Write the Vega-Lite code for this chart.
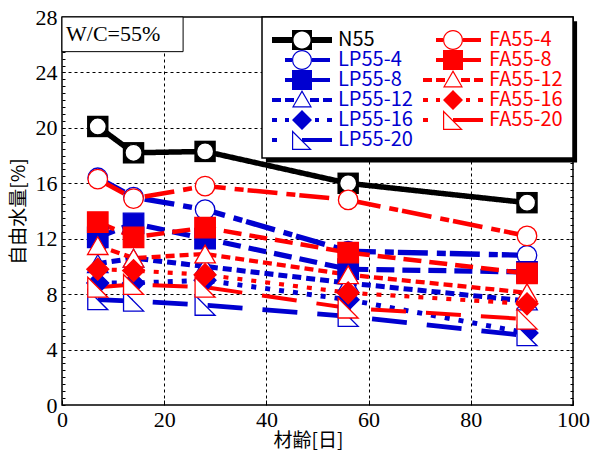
{
  "$schema": "https://vega.github.io/schema/vega-lite/v6.json",
  "width": 511,
  "height": 388,
  "autosize": {"type": "none"},
  "padding": {"left": 62, "top": 17, "right": 22, "bottom": 49},
  "background": "white",
  "config": {
    "view": {"stroke": "black", "strokeWidth": 1.5},
    "axis": {"labelColor": "black", "titleColor": "black", "tickColor": "black"},
    "legend": {"orient": "none", "padding": 0, "rowPadding": 0, "symbolSize": 400, "symbolStrokeWidth": 0, "symbolOpacity": 1,
      "labelOffset": 46, "labelFont": "Noto Sans CJK JP", "labelFontSize": 20, "labelLimit": 0, "labelBaseline": "middle", "title": null}
  },
  "data": {
    "values": [
      {"s": "N55", "a": 7, "v": 20.1}, {"s": "N55", "a": 14, "v": 18.2}, {"s": "N55", "a": 28, "v": 18.3}, {"s": "N55", "a": 56, "v": 16.0}, {"s": "N55", "a": 91, "v": 14.6},
      {"s": "LP55-4", "a": 7, "v": 16.4}, {"s": "LP55-4", "a": 14, "v": 15.0}, {"s": "LP55-4", "a": 28, "v": 14.1}, {"s": "LP55-4", "a": 56, "v": 11.1}, {"s": "LP55-4", "a": 91, "v": 10.8},
      {"s": "LP55-8", "a": 7, "v": 12.1}, {"s": "LP55-8", "a": 14, "v": 13.1}, {"s": "LP55-8", "a": 28, "v": 12.0}, {"s": "LP55-8", "a": 56, "v": 9.8}, {"s": "LP55-8", "a": 91, "v": 9.6},
      {"s": "LP55-12", "a": 7, "v": 10.2}, {"s": "LP55-12", "a": 14, "v": 10.6}, {"s": "LP55-12", "a": 28, "v": 10.0}, {"s": "LP55-12", "a": 56, "v": 8.8}, {"s": "LP55-12", "a": 91, "v": 7.5},
      {"s": "LP55-16", "a": 7, "v": 8.8}, {"s": "LP55-16", "a": 14, "v": 8.8}, {"s": "LP55-16", "a": 28, "v": 9.0}, {"s": "LP55-16", "a": 56, "v": 7.6}, {"s": "LP55-16", "a": 91, "v": 5.2},
      {"s": "LP55-20", "a": 7, "v": 7.6}, {"s": "LP55-20", "a": 14, "v": 7.5}, {"s": "LP55-20", "a": 28, "v": 7.2}, {"s": "LP55-20", "a": 56, "v": 6.4}, {"s": "LP55-20", "a": 91, "v": 5.0},
      {"s": "FA55-4", "a": 7, "v": 16.3}, {"s": "FA55-4", "a": 14, "v": 14.9}, {"s": "FA55-4", "a": 28, "v": 15.8}, {"s": "FA55-4", "a": 56, "v": 14.8}, {"s": "FA55-4", "a": 91, "v": 12.2},
      {"s": "FA55-8", "a": 7, "v": 13.2}, {"s": "FA55-8", "a": 14, "v": 12.1}, {"s": "FA55-8", "a": 28, "v": 12.8}, {"s": "FA55-8", "a": 56, "v": 11.0}, {"s": "FA55-8", "a": 91, "v": 9.5},
      {"s": "FA55-12", "a": 7, "v": 11.5}, {"s": "FA55-12", "a": 14, "v": 10.6}, {"s": "FA55-12", "a": 28, "v": 10.9}, {"s": "FA55-12", "a": 56, "v": 9.4}, {"s": "FA55-12", "a": 91, "v": 8.1},
      {"s": "FA55-16", "a": 7, "v": 9.8}, {"s": "FA55-16", "a": 14, "v": 9.7}, {"s": "FA55-16", "a": 28, "v": 9.4}, {"s": "FA55-16", "a": 56, "v": 8.1}, {"s": "FA55-16", "a": 91, "v": 7.3},
      {"s": "FA55-20", "a": 7, "v": 8.5}, {"s": "FA55-20", "a": 14, "v": 8.7}, {"s": "FA55-20", "a": 28, "v": 8.5}, {"s": "FA55-20", "a": 56, "v": 7.0}, {"s": "FA55-20", "a": 91, "v": 6.2}
    ]
  },
  "resolve": {"scale": {"shape": "independent"}, "axis": {"x": "independent", "y": "independent"}},
  "layer": [
    {
      "mark": {"type": "line", "strokeCap": "butt"},
      "encoding": {
        "x": {"field": "a", "type": "quantitative", "scale": {"domain": [0, 100], "nice": false},
          "axis": {"orient": "bottom", "tickCount": 5, "domain": false, "grid": true, "gridColor": "black", "gridDash": [3, 3], "gridWidth": 1,
            "gridOpacity": {"condition": {"test": "datum.value > 0 && datum.value < 100", "value": 1}, "value": 0},
            "tickSize": -5, "tickWidth": 1, "labelFont": "Liberation Serif", "labelFontSize": 22, "labelPadding": 9, "labelFlush": false,
            "title": "材齢[日]", "titleFont": "Noto Sans CJK JP", "titleFontSize": 19, "titleFontWeight": "normal", "titleX": 246, "titleY": 35, "titleBaseline": "middle"}},
        "y": {"field": "v", "type": "quantitative", "scale": {"domain": [0, 28], "nice": false},
          "axis": {"orient": "left", "tickCount": 56, "domain": false, "grid": true, "gridColor": "black", "gridDash": [3, 3], "gridWidth": 1,
            "gridOpacity": {"condition": {"test": "datum.value % 4 === 0 && datum.value > 0 && datum.value < 28", "value": 1}, "value": 0},
            "labelExpr": "datum.value % 4 === 0 ? format(datum.value, 'd') : ''",
            "tickSize": -3, "tickWidth": 1, "labelFont": "Liberation Serif", "labelFontSize": 22, "labelPadding": 8, "labelFlush": false,
            "title": "自由水量[%]", "titleFont": "Noto Sans CJK JP", "titleFontSize": 19, "titleFontWeight": "normal", "titleX": -44, "titleY": 194, "titleAlign": "center", "titleBaseline": "middle"}},
        "color": {"field": "s", "type": "nominal", "legend": null,
          "scale": {"domain": ["N55", "LP55-4", "LP55-8", "LP55-12", "LP55-16", "LP55-20", "FA55-4", "FA55-8", "FA55-12", "FA55-16", "FA55-20"],
            "range": ["black", "#0000d0", "#0000d0", "#0000d0", "#0000d0", "#0000d0", "#ff0000", "#ff0000", "#ff0000", "#ff0000", "#ff0000"]}},
        "strokeDash": {"field": "s", "type": "nominal", "legend": null,
          "scale": {"domain": ["N55", "LP55-4", "LP55-8", "LP55-12", "LP55-16", "LP55-20", "FA55-4", "FA55-8", "FA55-12", "FA55-16", "FA55-20"],
            "range": [[1, 0], [30, 9, 9, 4], [18, 8], [9, 5], [5, 9], [35, 20], [30, 9, 9, 4], [18, 8], [9, 5], [5, 9], [35, 20]]}},
        "strokeWidth": {"field": "s", "type": "nominal", "legend": null,
          "scale": {"domain": ["N55", "LP55-4", "LP55-8", "LP55-12", "LP55-16", "LP55-20", "FA55-4", "FA55-8", "FA55-12", "FA55-16", "FA55-20"],
            "range": [5.5, 4, 4, 4, 4, 4, 4, 4, 4, 4, 4]}}
      }
    },
    {
      "transform": [{"filter": "datum.s === 'N55'"}],
      "mark": {"type": "point", "shape": "square", "filled": true, "color": "black", "size": 460, "opacity": 1},
      "encoding": {
        "x": {"field": "a", "type": "quantitative", "axis": null},
        "y": {"field": "v", "type": "quantitative", "axis": null}
      }
    },
    {
      "mark": {"type": "point", "filled": true, "opacity": 1, "strokeWidth": 1.3},
      "encoding": {
        "x": {"field": "a", "type": "quantitative",
          "axis": {"orient": "top", "tickCount": 5, "domain": false, "grid": false, "labels": false, "title": null, "tickSize": -5, "tickWidth": 1}},
        "y": {"field": "v", "type": "quantitative",
          "axis": {"orient": "right", "tickCount": 56, "domain": false, "grid": false, "labels": false, "title": null, "tickSize": -3, "tickWidth": 1}},
        "shape": {"field": "s", "type": "nominal", "legend": null,
          "scale": {"domain": ["N55", "LP55-4", "LP55-8", "LP55-12", "LP55-16", "LP55-20", "FA55-4", "FA55-8", "FA55-12", "FA55-16", "FA55-20"],
            "range": ["circle", "circle", "square", "triangle-up", "diamond", "M-1,-1L1,1L-1,1Z", "circle", "square", "triangle-up", "diamond", "M-1,-1L1,1L-1,1Z"]}},
        "fill": {"field": "s", "type": "nominal", "legend": null,
          "scale": {"domain": ["N55", "LP55-4", "LP55-8", "LP55-12", "LP55-16", "LP55-20", "FA55-4", "FA55-8", "FA55-12", "FA55-16", "FA55-20"],
            "range": ["white", "white", "#0000d0", "white", "#0000d0", "white", "white", "#ff0000", "white", "#ff0000", "white"]}},
        "stroke": {"field": "s", "type": "nominal", "legend": null,
          "scale": {"domain": ["N55", "LP55-4", "LP55-8", "LP55-12", "LP55-16", "LP55-20", "FA55-4", "FA55-8", "FA55-12", "FA55-16", "FA55-20"],
            "range": ["black", "#0000d0", "#0000d0", "#0000d0", "#0000d0", "#0000d0", "#ff0000", "#ff0000", "#ff0000", "#ff0000", "#ff0000"]}},
        "size": {"field": "s", "type": "nominal", "legend": null,
          "scale": {"type": "ordinal", "domain": ["N55", "LP55-4", "LP55-8", "LP55-12", "LP55-16", "LP55-20", "FA55-4", "FA55-8", "FA55-12", "FA55-16", "FA55-20"],
            "range": [290, 380, 420, 420, 480, 400, 380, 420, 420, 480, 400]}}
      }
    },
    {
      "data": {"values": [{}]},
      "mark": {"type": "rect", "fill": "white", "stroke": "black", "strokeWidth": 1},
      "encoding": {
        "x": {"datum": 0, "type": "quantitative", "axis": null},
        "x2": {"datum": 23.7},
        "y": {"datum": 28, "type": "quantitative", "axis": null},
        "y2": {"datum": 25.5}
      }
    },
    {
      "data": {"values": [{}]},
      "mark": {"type": "text", "text": "W/C=55%", "font": "Liberation Serif", "fontSize": 22, "align": "left", "baseline": "middle", "dx": 4, "dy": 17, "color": "black"},
      "encoding": {
        "x": {"datum": 0, "type": "quantitative", "axis": null},
        "y": {"datum": 28, "type": "quantitative", "axis": null}
      }
    },
    {
      "data": {"values": [{}]},
      "mark": {"type": "rect", "fill": "black", "clip": false},
      "encoding": {
        "x": {"datum": 39.9, "type": "quantitative", "axis": null},
        "x2": {"datum": 100.8},
        "y": {"datum": 27.7, "type": "quantitative", "axis": null},
        "y2": {"datum": 17.5}
      }
    },
    {
      "data": {"values": [{}]},
      "mark": {"type": "rect", "fill": "white", "stroke": "black", "strokeWidth": 1.5, "clip": false},
      "encoding": {
        "x": {"datum": 39.14, "type": "quantitative", "axis": null},
        "x2": {"datum": 100},
        "y": {"datum": 28, "type": "quantitative", "axis": null},
        "y2": {"datum": 17.82}
      }
    },
    {
      "transform": [{"filter": "false"}],
      "mark": {"type": "point", "filled": true, "opacity": 1, "color": "black"},
      "encoding": {
        "shape": {
          "field": "s", "type": "nominal",
          "scale": {"domain": ["N55"],
            "range": ["M-1,-0.3H1V0.3H-1Z M3,-0.3H5V0.3H3Z M1,-1H3V1H1Z M2.85,0A0.85,0.85 0 1 0 1.15,0A0.85,0.85 0 1 0 2.85,0Z"]},
          "legend": {"legendX": 210, "legendY": 13, "labelColor": "black", "symbolFillColor": "black"}
        }
      }
    },
    {
      "transform": [{"filter": "false"}],
      "mark": {"type": "point", "filled": true, "opacity": 1, "color": "#0000d0"},
      "encoding": {
        "shape": {
          "field": "s", "type": "nominal",
          "scale": {"domain": ["LP55-4", "LP55-8", "LP55-12", "LP55-16", "LP55-20"],
            "range": [
              "M0.3,-0.2H1V0.2H0.3Z M3,-0.2H4.8V0.2H3Z M3,0A1,1 0 1 1 1,0A1,1 0 1 1 3,0Z M2.88,0A0.88,0.88 0 1 0 1.12,0A0.88,0.88 0 1 0 2.88,0Z",
              "M0.3,-0.2H1V0.2H0.3Z M3,-0.2H4.8V0.2H3Z M1,-1H3V1H1Z",
              "M-1,-0.2H-0.1V0.2H-1Z M0.3,-0.2H1.2V0.2H0.3Z M2.8,-0.2H3.7V0.2H2.8Z M4.1,-0.2H5V0.2H4.1Z M2,-1L3,0.75L1,0.75Z M2,-0.76L1.2,0.63L2.8,0.63Z",
              "M-1,-0.2H-0.5V0.2H-1Z M0.3,-0.2H0.7V0.2H0.3Z M3.3,-0.2H3.7V0.2H3.3Z M4.5,-0.2H5V0.2H4.5Z M2,-1L3,0L2,1L1,0Z",
              "M-1,-0.2H-0.5V0.2H-1Z M2,-0.2H5V0.2H2Z M1,-1L3,1L1,1Z M1.12,-0.71L1.12,0.88L2.71,0.88Z"
            ]},
          "legend": {"legendX": 210, "legendY": 33, "labelColor": "#0000d0", "symbolFillColor": "#0000d0"}
        }
      }
    },
    {
      "transform": [{"filter": "false"}],
      "mark": {"type": "point", "filled": true, "opacity": 1, "color": "#ff0000"},
      "encoding": {
        "shape": {
          "field": "s", "type": "nominal",
          "scale": {"domain": ["FA55-4", "FA55-8", "FA55-12", "FA55-16", "FA55-20"],
            "range": [
              "M0.3,-0.2H1V0.2H0.3Z M3,-0.2H4.8V0.2H3Z M3,0A1,1 0 1 1 1,0A1,1 0 1 1 3,0Z M2.88,0A0.88,0.88 0 1 0 1.12,0A0.88,0.88 0 1 0 2.88,0Z",
              "M0.3,-0.2H1V0.2H0.3Z M3,-0.2H4.8V0.2H3Z M1,-1H3V1H1Z",
              "M-1,-0.2H-0.1V0.2H-1Z M0.3,-0.2H1.2V0.2H0.3Z M2.8,-0.2H3.7V0.2H2.8Z M4.1,-0.2H5V0.2H4.1Z M2,-1L3,0.75L1,0.75Z M2,-0.76L1.2,0.63L2.8,0.63Z",
              "M-1,-0.2H-0.5V0.2H-1Z M0.3,-0.2H0.7V0.2H0.3Z M3.3,-0.2H3.7V0.2H3.3Z M4.5,-0.2H5V0.2H4.5Z M2,-1L3,0L2,1L1,0Z",
              "M-1,-0.2H-0.5V0.2H-1Z M2,-0.2H5V0.2H2Z M1,-1L3,1L1,1Z M1.12,-0.71L1.12,0.88L2.71,0.88Z"
            ]},
          "legend": {"legendX": 361, "legendY": 13, "labelColor": "#ff0000", "symbolFillColor": "#ff0000"}
        }
      }
    }
  ]
}
